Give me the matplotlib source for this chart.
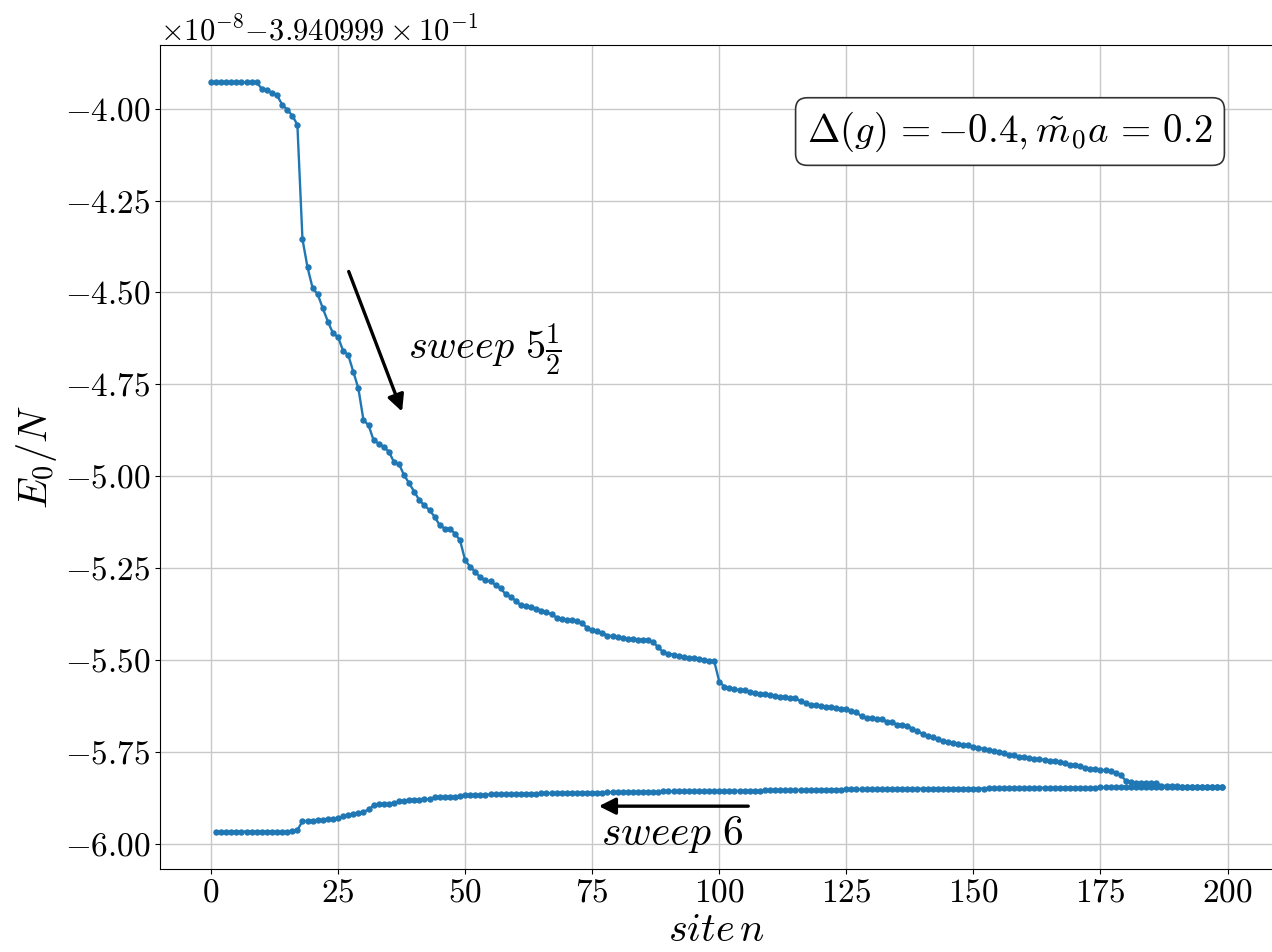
import matplotlib.pyplot as plt
from matplotlib.ticker import MultipleLocator

# Computer Modern look (the original was rendered with LaTeX)
plt.rcParams['font.family'] = 'serif'
plt.rcParams['font.serif'] = ['cmr10']
plt.rcParams['mathtext.fontset'] = 'cm'
plt.rcParams['axes.formatter.use_mathtext'] = True

# energy per site: E0/N = offset + e * 1e-8
offset = -0.3940999
scale = 1e-8

# sweep 5 1/2 (left -> right), sites 0..199
sites_55 = list(range(0, 200))
e_55 = [-3.929] * 10 + [
    -3.946, -3.950, -3.957, -3.964, -3.989, -4.003, -4.019, -4.044,
    -4.355, -4.432, -4.488, -4.505, -4.543, -4.579, -4.611, -4.621, -4.659, -4.670,
    -4.716, -4.761, -4.847, -4.861, -4.902, -4.911, -4.920, -4.933, -4.961, -4.967,
    -4.997, -5.019, -5.042, -5.065, -5.079, -5.092, -5.110, -5.133, -5.142, -5.142,
    -5.156, -5.174, -5.228, -5.246, -5.260, -5.275, -5.283, -5.286, -5.295, -5.305,
    -5.321, -5.328, -5.339, -5.351, -5.354, -5.356, -5.360, -5.365, -5.369, -5.375,
    -5.384, -5.387, -5.390, -5.392, -5.394, -5.399, -5.412, -5.419, -5.422, -5.426,
    -5.433, -5.435, -5.438, -5.440, -5.442, -5.443, -5.444, -5.444, -5.446, -5.451,
    -5.465, -5.478, -5.482, -5.485, -5.488, -5.492, -5.493, -5.495, -5.497, -5.499,
    -5.501, -5.502, -5.558, -5.572, -5.576, -5.579, -5.581, -5.582, -5.587, -5.590,
    -5.591, -5.593, -5.595, -5.597, -5.599, -5.601, -5.602, -5.603, -5.612, -5.617,
    -5.621, -5.622, -5.624, -5.626, -5.628, -5.630, -5.632, -5.634, -5.637, -5.642,
    -5.653, -5.657, -5.658, -5.660, -5.661, -5.667, -5.669, -5.675, -5.676, -5.678,
    -5.687, -5.693, -5.700, -5.706, -5.710, -5.714, -5.719, -5.723, -5.725, -5.728,
    -5.730, -5.732, -5.736, -5.738, -5.741, -5.744, -5.748, -5.750, -5.753, -5.757,
    -5.759, -5.762, -5.764, -5.766, -5.768, -5.770, -5.771, -5.773, -5.775, -5.778,
    -5.780, -5.784, -5.784, -5.787, -5.793, -5.796, -5.797, -5.798, -5.800, -5.802,
    -5.806, -5.813, -5.828, -5.832, -5.833, -5.834, -5.834, -5.835, -5.835, -5.841,
    -5.842, -5.843, -5.843, -5.844, -5.844, -5.845, -5.845, -5.845, -5.846, -5.846,
    -5.846, -5.846,
]

# sweep 6 (right -> left), sites 1..199
sites_6 = list(range(1, 200))
e_6 = [-5.966] * 15 + [
    -5.965, -5.962,
    -5.938, -5.937, -5.936, -5.935, -5.934, -5.933, -5.932, -5.930,
    -5.925, -5.921, -5.918, -5.915, -5.913, -5.906, -5.895, -5.892, -5.891, -5.890,
    -5.889, -5.884, -5.882, -5.880, -5.879, -5.879, -5.878, -5.878, -5.873, -5.872,
    -5.872, -5.871, -5.871, -5.870, -5.867, -5.867, -5.866, -5.866, -5.866, -5.865,
    -5.865, -5.865, -5.864, -5.864, -5.864, -5.863, -5.863, -5.863, -5.863, -5.862,
    -5.862, -5.862, -5.862, -5.861, -5.861, -5.861, -5.861, -5.860, -5.860, -5.860,
    -5.860, -5.860, -5.859, -5.859, -5.859, -5.859, -5.859, -5.858, -5.858, -5.858,
    -5.858, -5.858, -5.858, -5.857, -5.857, -5.857, -5.857, -5.857, -5.857, -5.857,
    -5.857, -5.857, -5.857, -5.857, -5.856, -5.856, -5.856, -5.856, -5.855, -5.855,
    -5.855, -5.855, -5.855, -5.854, -5.854, -5.854, -5.854, -5.854, -5.854, -5.853,
    -5.853, -5.853, -5.853, -5.853, -5.852, -5.852, -5.852, -5.852, -5.852, -5.851,
    -5.851, -5.851, -5.851, -5.851, -5.851, -5.851, -5.850, -5.850, -5.850, -5.850,
    -5.850, -5.850, -5.850, -5.850, -5.849, -5.849, -5.849, -5.849, -5.849, -5.849,
    -5.849, -5.849, -5.849, -5.849, -5.849, -5.849, -5.849, -5.848, -5.848, -5.848,
    -5.848, -5.848, -5.848, -5.848, -5.848, -5.847, -5.847, -5.847, -5.847, -5.847,
    -5.847, -5.847, -5.847, -5.847, -5.847, -5.847, -5.847, -5.847, -5.847, -5.846,
] + [-5.846] * 24

y_55 = [offset + v * scale for v in e_55]
y_6 = [offset + v * scale for v in e_6]

fig = plt.figure(figsize=(12.72, 9.52), dpi=100)
ax = fig.add_axes([0.1261, 0.0872, 0.8747, 0.8655])

style = dict(color='#1f77b4', lw=1.7, marker='o', ms=3.6)
ax.plot(sites_55, y_55, **style)
ax.plot(sites_6, y_6, **style)

ax.grid(True, color='#c8c8c8', lw=1.0)
ax.xaxis.set_major_locator(MultipleLocator(25))
ax.yaxis.set_major_locator(MultipleLocator(0.25 * scale))
ax.ticklabel_format(axis='y', useOffset=offset, useMathText=True)
ax.tick_params(labelsize=24)
ax.yaxis.get_offset_text().set_fontsize(22)

ax.set_xlabel(r'$site\, n$', fontsize=29)
ax.set_ylabel(r'$E_0/N$', fontsize=29)

# arrows and labels for the sweeps
arrow = dict(arrowstyle='-|>', color='black', lw=2.4, mutation_scale=25,
             shrinkA=0, shrinkB=0)
ax.annotate('', xy=(37.6, offset - 4.824 * scale),
            xytext=(27.1, offset - 4.443 * scale), arrowprops=arrow)
ax.text(38.8, offset - 4.656 * scale, r'$sweep\ 5\frac{1}{2}$',
        fontsize=29, ha='left', va='center')

ax.annotate('', xy=(76.3, offset - 5.897 * scale),
            xytext=(105.7, offset - 5.897 * scale), arrowprops=arrow)
ax.text(76.7, offset - 5.975 * scale, r'$sweep\ 6$',
        fontsize=30, ha='left', va='center')

ax.text(0.7636, 0.895, r'$\Delta(g)\,= -0.4, \tilde{m}_0 a\,=\,0.2$',
        transform=ax.transAxes, fontsize=28, ha='center', va='center',
        bbox=dict(boxstyle='round,pad=0.3', facecolor='white',
                  edgecolor='#333333', lw=1.2))

fig.savefig('out.png', dpi=100)
